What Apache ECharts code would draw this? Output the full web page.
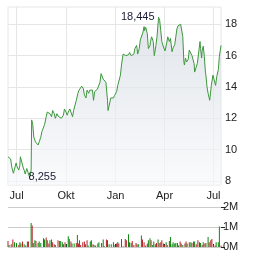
<!DOCTYPE html>
<html><head><meta charset="utf-8">
<script src="https://cdn.jsdelivr.net/npm/echarts@6/dist/echarts.min.js"></script>
<style>html,body{margin:0;padding:0;background:#fff}#c{width:264px;height:255px}</style>
</head><body><div id="c"></div>
<script>
// days counted from 2023-07-01
const priceDays = [-16,-14,-11,-9,-6,-4,-1,1,4,6,7,10,12,14,16,19,21,24,26,27,28,30,32,35,37,40,42,45,47,50,52,55,57,60,62,65,67,70,72,75,77,80,83,87,89,92,94,96,99,101,104,106,109,111,114,116,119,121,124,126,129,131,134,136,139,141,143,145,148,150,152,155,157,159,161,164,166,169,170,172,175,177,180,182,186,188,190,193,195,198,200,203,205,208,210,213,215,218,220,223,224,225,228,230,233,235,237,238,240,243,245,248,249,251,254,256,259,261,264,266,268,270,273,276,279,281,284,286,289,291,294,296,298,300,303,305,307,309,311,312,314,316,319,321,324,326,329,330,331,334,336,339,341,342,344,345,347,349,351,352,354,356,359,360,362,365,367,370,372,375,377,380];
const prices = [9.55,9.5,9.4,8.9,8.5,8.5,9.15,8.9,8.7,9.0,9.55,9.45,8.9,8.7,8.45,8.8,8.9,8.255,8.5,8.7,11.9,11.6,10.8,10.5,10.4,10.3,10.5,10.8,11.15,11.25,11.6,12.1,12.4,12.5,12.3,12.1,12.5,12.3,12.0,12.3,12.15,12.1,12.0,12.2,12.6,12.4,12.2,12.4,12.6,12.5,12.1,12.5,12.6,13.15,13.6,13.8,13.7,14.05,13.9,13.5,13.3,13.8,13.6,13.8,13.7,13.8,13.15,13.7,13.8,13.85,13.9,14.3,14.85,14.75,14.5,14.5,14.3,13.15,12.5,12.8,13.3,13.35,13.3,13.45,13.7,14.1,14.2,14.75,15.4,16.1,16.2,16.0,16.1,16.05,16.2,16.0,16.05,16.1,16.45,16.65,16.45,16.1,16.45,17.0,17.1,17.5,17.85,17.6,17.8,17.4,16.45,16.65,16.9,17.2,16.9,16.0,16.65,17.2,18.445,18.25,17.6,16.9,16.55,16.3,16.8,17.2,16.9,17.1,16.25,16.5,16.7,17.2,17.7,17.9,18.0,18.0,17.9,17.2,15.6,15.4,15.85,15.6,15.75,16.35,16.4,16.0,16.1,15.5,14.95,14.85,15.5,16.35,16.9,16.45,15.85,16.35,16.6,15.95,14.95,14.75,14.0,13.6,13.15,13.25,14.1,14.75,14.65,14.1,14.65,15.1,15.95,16.65];

const volDays = [-16,-14,-10,-7,-4,0,4,6,8,11,14,17,20,22,27,29,31,34,36,40,42,45,50,52,55,57,60,62,65,67,70,72,77,80,82,85,87,90,92,96,98,101,103,107,111,113,115,117,119,123,126,128,131,133,137,139,142,144,147,151,153,158,161,163,167,169,172,176,180,183,186,188,190,195,198,202,204,208,210,213,215,218,222,224,227,232,234,237,240,243,245,248,250,253,255,258,260,263,265,268,270,273,275,278,280,284,286,289,291,294,296,299,301,304,306,309,313,315,317,321,324,326,329,331,334,337,340,342,345,347,350,352,356,358,361,363,366,369,371,375,377,380];
const volumes = [0.3,0.1,0.14,0.37,0.24,0.2,0.1,0.24,0.17,0.27,0.14,0.07,0.27,0.27,1.2,1.08,0.2,0.34,0.3,0.2,0.27,0.2,0.44,0.37,0.47,0.34,0.17,0.34,0.37,0.24,0.14,0.1,0.34,0.3,0.3,0.24,0.14,0.24,0.14,0.54,0.4,0.27,0.17,0.17,0.2,0.6,0.17,0.34,0.1,0.24,0.27,0.14,0.34,0.07,0.27,0.34,0.14,0.1,0.07,0.17,0.24,0.2,0.37,0.04,0.37,0.34,0.14,0.14,0.24,0.1,0.17,0.24,0.17,0.4,0.04,0.4,0.34,0.64,0.24,0.2,0.3,0.1,0.2,0.14,0.14,0.57,0.37,0.24,0.07,0.17,0.34,0.44,0.34,0.1,0.27,0.14,0.2,0.37,0.2,0.24,0.34,0.17,0.1,0.24,0.1,0.3,0.5,0.14,0.24,0.17,0.2,0.2,0.07,0.27,0.17,0.1,0.17,0.27,0.17,0.24,0.24,0.2,0.27,0.27,0.14,0.34,0.24,0.2,0.1,0.24,0.17,0.2,0.5,0.24,0.34,0.4,0.1,0.07,0.24,0.24,1.02,0.07]; // millions
const volUp = [0,1,0,0,1,1,0,1,1,0,1,0,1,0,1,0,1,1,0,1,1,1,1,1,0,1,0,1,0,0,0,1,0,0,1,1,0,0,1,1,1,0,1,1,0,1,0,1,0,0,0,1,0,1,1,1,0,1,0,1,1,0,1,1,0,0,1,1,1,1,0,1,0,1,0,0,0,1,0,1,0,0,0,0,1,1,0,0,0,0,1,1,0,1,1,1,0,1,0,0,0,1,0,1,0,0,1,1,1,1,1,1,1,0,0,1,0,0,1,0,1,0,0,1,0,0,0,1,0,1,0,1,1,0,0,0,1,0,1,1,1,0];

const quarterTicks = ['2023-07-01','2023-10-01','2024-01-01','2024-04-01','2024-07-01'];
const monthNames = ['Jan','Feb','Mär','Apr','Mai','Jun','Jul','Aug','Sep','Okt','Nov','Dez'];
const priceTicks = [8,10,12,14,16,18];

function dayToTime(d){ return new Date(2023, 6, 1 + d).getTime(); }
const qTimes = quarterTicks.map(s => { const p = s.split('-'); return new Date(+p[0], +p[1]-1, +p[2]).getTime(); });
const xMin = dayToTime(priceDays[0]);
const xMax = dayToTime(priceDays[priceDays.length-1]);
const priceData = priceDays.map((d,i) => [dayToTime(d), prices[i]]);
const volData = volDays.map((d,i) => ({value:[dayToTime(d), volumes[i]*1e6], itemStyle:{color: volUp[i] ? '#0b870b' : '#b3242a'}}));
const fmt = v => v.toFixed(3).replace('.', ',');
const FONT = 'Liberation Sans, Arial, sans-serif';

const chart = echarts.init(document.getElementById('c'), null, {renderer:'canvas'});
chart.setOption({
  animation:false,
  grid:[
    {left:8, top:7, width:213, height:178, show:true, borderColor:'#e6e6e6', borderWidth:1},
    {left:8, top:207, width:213, height:40}
  ],
  xAxis:[
    {type:'value', gridIndex:0, min:xMin, max:xMax,
      axisLine:{show:false}, axisTick:{show:false, customValues:qTimes},
      axisLabel:{customValues:qTimes, formatter:v=>monthNames[new Date(v).getMonth()], color:'#222', fontSize:11, fontFamily:FONT, margin:5},
      splitLine:{show:true, lineStyle:{color:'#e6e6e6', width:1}}},
    {type:'value', gridIndex:1, min:xMin, max:xMax, position:'top',
      axisLine:{show:false}, axisLabel:{show:false, customValues:qTimes},
      axisTick:{show:true, customValues:qTimes, length:3, inside:false, lineStyle:{color:'#222'}},
      splitLine:{show:false}}
  ],
  yAxis:[
    {type:'value', gridIndex:0, position:'right', min:7.75, max:19.1,
      axisLine:{show:false}, axisTick:{show:false, customValues:priceTicks},
      axisLabel:{customValues:priceTicks, color:'#222', fontSize:11, fontFamily:FONT, margin:4},
      splitLine:{show:true, lineStyle:{color:'#e6e6e6'}}},
    {type:'value', gridIndex:1, position:'right', min:0, max:2e6, interval:1e6,
      axisLine:{show:false}, axisTick:{show:true, length:4, lineStyle:{color:'#222'}},
      axisLabel:{formatter:v=>(v/1e6)+'M', color:'#222', fontSize:11, fontFamily:FONT, margin:2},
      splitLine:{show:true, lineStyle:{color:'#cccccc'}}}
  ],
  series:[
    {type:'line', xAxisIndex:0, yAxisIndex:0, data:priceData, showSymbol:false, symbol:'none',
      lineStyle:{color:'#3d963d', width:1},
      areaStyle:{origin:'start', color:new echarts.graphic.LinearGradient(0,0,0,1,[{offset:0,color:'#d3dae1'},{offset:1,color:'#f7f8fa'}])},
      markPoint:{symbol:'circle', symbolSize:0, silent:true,
        label:{show:true, color:'#1a1a33', fontSize:11, fontFamily:FONT, formatter:p=>fmt(p.value)},
        data:[{type:'max', label:{position:'left', distance:4}},{type:'min', label:{position:'right', distance:-1}}]}},
    {type:'bar', xAxisIndex:1, yAxisIndex:1, data:volData, barWidth:1}
  ]
});
</script></body></html>
